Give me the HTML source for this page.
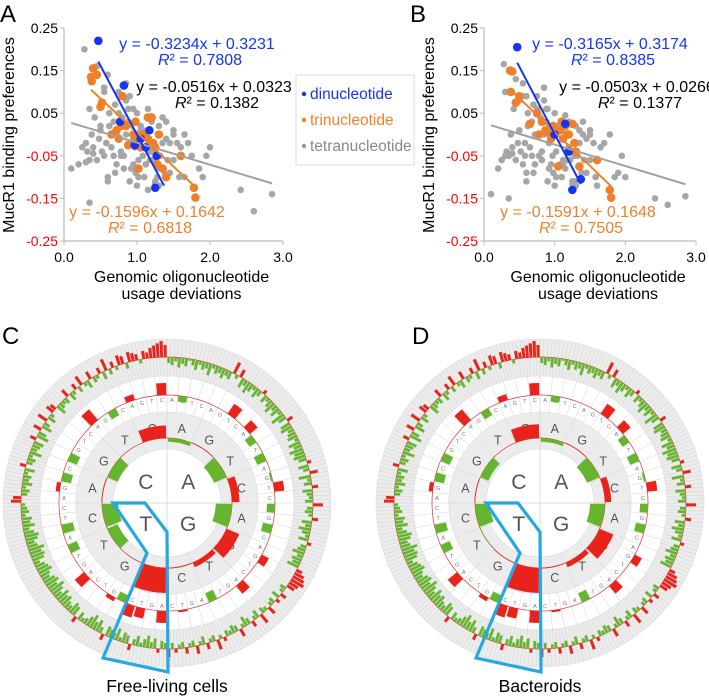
<!DOCTYPE html>
<html><head><meta charset="utf-8"><style>
html,body{margin:0;padding:0;background:#fff}
svg{display:block;font-family:"Liberation Sans",Arial,sans-serif}
</style></head><body>
<svg id="fig" width="709" height="697" viewBox="0 0 709 697" xmlns="http://www.w3.org/2000/svg">
<text x="0" y="22" font-size="24">A</text>
<text x="410" y="22" font-size="24">B</text>
<text x="2" y="344" font-size="24">C</text>
<text x="412" y="344" font-size="24">D</text>
<g id="legend">
<rect x="296" y="75" width="118" height="90" fill="#fff" stroke="#ddd"/>
<g><circle cx="304" cy="94" r="2.2" fill="#1434f0"/><text x="310" y="99" font-size="15.5" fill="#1434f0">dinucleotide</text></g>
<g><circle cx="304" cy="120" r="2.2" fill="#f07f2a"/><text x="310" y="125" font-size="15.5" fill="#f07f2a">trinucleotide</text></g>
<g><circle cx="304" cy="146" r="2.2" fill="#999"/><text x="310" y="151" font-size="15.5" fill="#888">tetranucleotide</text></g>
</g>
<text x="167" y="692" font-size="17.5" text-anchor="middle">Free-living cells</text>
<text x="540" y="692" font-size="17.5" text-anchor="middle">Bacteroids</text>
</svg>
<script>
// ---------- scatter data ----------
const yTicks = [0.25, 0.15, 0.05, -0.05, -0.15, -0.25];
const xTicks = [0, 1, 2, 3];
const xTickLabels = ["0.0", "1.0", "2.0", "3.0"];
const blueXA = [0.47, 0.82, 0.77, 1.17, 0.97, 1.27, 1.25, 1.05, 1.12];
const blueYA = [0.22, 0.115, 0.03, 0.01, -0.025, -0.05, -0.125, -0.01, -0.03];
const orangeXA = [0.4,0.37,0.38,0.45,0.52,0.5,0.8,0.65,0.78,0.75,0.88,1.0,1.15,1.2,1.1,1.15,1.3,1.25,1.28,1.6,1.78,1.8,1.02,0.95,1.22,1.35,1.05,0.85,1.4,0.98,0.72,1.08];
const orangeYA = [0.155,0.135,0.125,0.14,0.075,0.065,0.09,0.0,0.02,-0.01,-0.025,-0.01,0.04,0.04,0.0,-0.01,0.0,-0.03,-0.07,-0.05,-0.125,-0.148,-0.08,0.0,-0.02,-0.08,-0.03,0.02,-0.1,0.03,0.01,0.0];
const grayXA = [0.28,0.45,0.55,0.6,0.35,0.42,0.5,0.7,0.75,0.85,0.9,0.95,0.62,0.68,0.8,0.88,1.0,1.05,1.1,1.15,1.2,1.3,1.35,1.4,1.45,1.5,1.55,0.3,0.25,0.2,0.1,0.4,0.48,0.52,0.58,0.65,0.72,0.78,0.82,0.92,0.97,1.02,1.08,1.12,1.18,1.22,1.28,1.32,1.38,1.42,1.6,1.65,1.7,1.75,1.85,1.9,1.95,2.0,0.35,0.6,0.7,0.9,1.0,1.1,1.15,1.25,1.3,0.55,0.45,0.32,0.38,0.62,0.75,0.85,0.95,1.05,1.2,1.35,1.5,1.58,2.42,2.6,2.85,0.35,0.6,0.82,0.98,1.12,1.28,0.5,0.68,0.88,1.08,1.18,0.4,0.58,0.78,0.92,1.02,1.22,1.4,1.5,0.3,0.95,1.25,1.45,1.65,0.72,0.55,0.85];
const grayYA = [0.2,0.16,0.1,0.14,0.06,0.04,0.02,0.07,0.1,0.08,0.09,0.06,0.05,0.03,0.04,0.06,0.05,0.02,0.0,0.06,0.03,0.02,0.04,-0.01,-0.02,0.0,-0.02,-0.02,-0.03,-0.07,-0.08,-0.03,-0.01,-0.04,-0.02,-0.03,0.0,-0.04,-0.05,-0.02,-0.03,-0.06,-0.05,-0.07,-0.04,-0.06,-0.08,-0.05,-0.09,-0.06,-0.03,0.0,-0.02,-0.05,-0.08,-0.1,-0.05,-0.03,-0.06,-0.1,-0.09,-0.11,-0.12,-0.1,-0.13,-0.11,-0.12,-0.05,-0.06,-0.04,0.0,0.02,0.05,0.0,-0.01,0.01,-0.03,-0.02,-0.06,-0.1,-0.13,-0.18,-0.14,-0.16,-0.11,-0.08,-0.09,-0.07,-0.1,0.01,-0.05,0.03,0.01,-0.06,-0.045,-0.02,-0.05,-0.08,-0.1,-0.04,0.03,0.01,-0.065,-0.07,-0.115,-0.09,-0.1,-0.07,0.11,0.12];
const blueXB = [0.47, 1.25, 1.37, 1.15, 1.0, 1.2];
const blueYB = [0.205, -0.13, -0.105, 0.025, 0.0, -0.04];
const orangeXB = [0.37,0.4,0.38,0.5,0.45,0.75,0.65,0.78,0.82,0.9,0.95,1.0,1.1,1.15,1.2,1.25,1.28,1.35,1.6,1.78,1.8,1.05,0.98,1.12,1.3,0.87,1.18,1.08];
const orangeYB = [0.15,0.148,0.1,0.09,0.075,0.05,0.025,0.0,0.03,0.005,-0.01,0.0,0.03,0.02,0.0,0.025,-0.02,-0.075,-0.06,-0.13,-0.148,-0.075,0.02,-0.01,-0.04,0.01,0.0,0.01];
const grayXB = [0.28,0.35,0.45,0.55,0.6,0.42,0.3,0.5,0.7,0.75,0.85,0.9,0.62,0.68,0.8,0.88,1.0,1.05,1.1,1.15,1.2,1.3,1.35,1.4,1.45,1.5,1.55,0.3,0.25,0.2,0.1,0.4,0.48,0.52,0.58,0.65,0.72,0.78,0.82,0.92,0.97,1.02,1.08,1.12,1.18,1.22,1.28,1.32,1.38,1.42,1.6,1.65,1.7,1.78,1.85,1.9,1.95,2.0,0.35,0.6,0.7,0.9,1.0,1.1,1.15,1.25,1.3,0.55,0.45,0.32,0.38,0.62,0.75,0.85,0.95,1.05,1.2,1.35,1.5,1.58,2.42,2.6,2.85,0.35,0.6,0.82,0.98,1.12,1.28,0.5,0.68,0.88,1.08,1.18,0.4,0.58,0.78,0.92,1.02,1.22,1.4,1.5,0.95,1.25,1.45,0.72,0.55,0.85];
const grayYB = [0.165,0.1,0.13,0.12,0.09,0.06,0.1,0.08,0.07,0.09,0.08,0.06,0.05,0.03,0.04,0.06,0.05,0.02,0.03,0.045,0.03,0.02,0.01,0.0,-0.01,0.0,-0.02,-0.05,-0.06,-0.08,-0.14,-0.03,-0.02,-0.04,-0.05,-0.03,0.0,-0.05,-0.04,-0.02,-0.05,-0.04,-0.07,-0.06,-0.04,-0.06,-0.11,-0.05,-0.09,-0.06,-0.12,-0.03,-0.02,0.0,-0.1,-0.09,-0.05,-0.1,-0.15,-0.11,-0.09,-0.11,-0.12,-0.1,-0.08,-0.11,-0.12,-0.07,-0.06,-0.04,0.0,0.02,0.06,0.0,-0.01,0.01,-0.03,-0.02,-0.06,-0.1,-0.15,-0.165,-0.145,-0.05,-0.09,-0.06,-0.09,-0.07,-0.05,0.01,-0.05,0.03,0.01,-0.06,-0.045,-0.02,-0.05,-0.08,-0.1,-0.04,0.03,0.01,-0.07,-0.115,-0.09,-0.07,0.09,0.11];
const fitA = {blue:[-0.3234,0.3231,0.47,1.37], orange:[-0.1596,0.1642,0.37,1.8], gray:[-0.0516,0.0323,0.1,2.85]};
const fitB = {blue:[-0.3165,0.3174,0.47,1.37], orange:[-0.1591,0.1648,0.37,1.8], gray:[-0.0503,0.0266,0.1,2.85]};

// ---------- circle data (positive = red outward, negative = green inward) ----------
const diC = [-0.3,0.05,-1.1,0.6, -1.3,1.1,0.4,0.05, 2.0,0.0,-0.9,-1.3, 0.05,-0.9,0.0,1.0];
const diD = [-0.3,0.05,-1.1,0.5, -1.2,1.2,0.4,0.05, 2.0,0.05,-0.05,-1.2, 0.05,-0.7,0.0,1.1];
const tri = [0,-3,0,0,0,0,6,0,5,-4,0,-5,0,-1,5,0,
 -4,0,-5,0,0,4,0,0,5,0,0,-5,0,0,1,0,
 6,0,5,6,-4,2,0,0,6,0,0,-5,0,-6,0,0,
 0,2,-5,0,-5,0,0,0,7,0,-4,0,3,0,0,6];
const tetra = [-3,-4,-2,-5,-3,-4,-1,-3,-5,-2,-4,-3,-6,-2,-4,-3,
 -5,-3,-4,6,-2,4,-5,-3,-6,-4,-2,-5,-3,2,-4,-2,
 -4,-6,-3,-5,-2,-7,-4,3,-5,-6,-3,-4,-5,-2,-6,-4,
 -7,-5,-6,-4,2,-5,-3,4,-6,-2,-4,3,-5,-3,-2,-4,
 5,-3,-4,-2,3,-5,-3,-6,-4,-2,-5,2,-3,-4,-6,-3,
 -5,-4,-6,3,5,6,7,5,4,-3,-2,3,-4,2,-3,-2,
 4,-2,-3,5,-4,-2,3,-3,-5,-2,4,-3,-4,-2,-3,2,
 -2,5,-3,-2,3,-4,-2,4,-3,-2,3,-3,-2,2,-3,4,
 -3,-4,2,-5,-3,-6,-4,-2,-5,-3,3,-4,-5,-2,-6,-3,
 -4,-5,3,-3,-6,-4,-7,-5,-3,-2,-4,3,-5,-6,-3,-4,
 -6,-5,-7,-4,-6,-8,-5,-7,-6,-4,-5,-7,-6,-5,-3,-6,
 -7,-6,-8,-5,-4,-6,-7,-5,-3,-6,-4,-5,-2,-4,-3,-2,
 5,4,-3,-4,-2,-5,-3,-4,-2,-5,3,-3,-4,-2,-6,-3,
 -4,-5,3,-6,-4,4,-5,-3,5,-4,-2,4,3,-5,-3,-2,
 -3,4,-4,-2,3,-3,5,-2,-4,4,-3,-2,3,-4,6,-3,
 3,-2,5,4,-3,5,4,3,-2,4,3,5,6,7,8,6];
const bases = ["A","G","T","C"];

const NS="http://www.w3.org/2000/svg";
const svg=document.getElementById('fig');
function mk(tag,attrs,parent){const e=document.createElementNS(NS,tag);for(const k in attrs)e.setAttribute(k,attrs[k]);(parent||svg).appendChild(e);return e;}

function scatter(px0,px1,gx,gy,bx,by,ox,oy,fit,eq,name){
  const g=mk('g',{});
  
  
  const X=v=>px0+v*(px1-px0)/3, Y=v=>28+(0.25-v)*426;
  mk('line',{x1:px0,y1:28,x2:px0,y2:241,stroke:'#bbb','stroke-width':1.2},g);
  mk('line',{x1:px0,y1:241,x2:px1,y2:241,stroke:'#bbb','stroke-width':1.2},g);
  yTicks.forEach(t=>{
    mk('line',{x1:px0-4,y1:Y(t),x2:px0,y2:Y(t),stroke:'#bbb'},g);
    const tx=mk('text',{x:px0-6,y:Y(t)+5,'font-size':14,'text-anchor':'end',fill:t<0?'#f00':'#000'},g);
    
    
    tx.textContent=t.toFixed(2);
  });
  xTicks.forEach((t,i)=>{
    mk('line',{x1:X(t),y1:241,x2:X(t),y2:245,stroke:'#bbb'},g);
    const tx=mk('text',{x:X(t),y:262,'font-size':14,'text-anchor':'middle'},g);
    
    
    tx.textContent=xTickLabels[i];
  });
  const yl=mk('text',{x:0,y:0,'font-size':16,'text-anchor':'middle',transform:`translate(${px0-50},135) rotate(-90)`},g);
  
  
  yl.textContent='MucR1 binding preferences';
  const cx=(px0+px1)/2+8;
  const xl1=mk('text',{x:cx,y:282,'font-size':16,'text-anchor':'middle'},g);
  
  
  xl1.textContent='Genomic oligonucleotide';
  const xl2=mk('text',{x:cx,y:299,'font-size':16,'text-anchor':'middle'},g);
  
  
  xl2.textContent='usage deviations';
  gx.forEach((v,i)=>{const c=mk('circle',{cx:X(v),cy:Y(gy[i]),r:3.3,fill:'#a6a6a6'},g);
    
    });
  ox.forEach((v,i)=>{const c=mk('circle',{cx:X(v),cy:Y(oy[i]),r:4.3,fill:'#f07f2a'},g);
    
    });
  bx.forEach((v,i)=>{const c=mk('circle',{cx:X(v),cy:Y(by[i]),r:4.3,fill:'#1434f0'},g);
    
    });
  const cols={gray:'#a0a0a0',orange:'#f07f2a',blue:'#1434f0'};
  ['gray','orange','blue'].forEach(k=>{const [m,b,a,z]=fit[k];
    const l=mk('line',{x1:X(a),y1:Y(m*a+b),x2:X(z),y2:Y(m*z+b),stroke:cols[k],'stroke-width':2},g);
    
    });
  eq.forEach(e=>{
    const t1=mk('text',{x:e[0],y:e[1],'font-size':16,'text-anchor':'middle',fill:e[4]},g);
    
    
    t1.textContent=e[2];
    const t2=mk('text',{x:e[0]+3,y:e[1]+16,'font-size':16,'text-anchor':'middle',fill:e[4]},g);
    
    
    t2.innerHTML='<tspan font-style="italic">R</tspan>² = '+e[3];
  });
}
scatter(64,283,grayXA,grayYA,blueXA,blueYA,orangeXA,orangeYA,fitA,[
 [197,49,'y = -0.3234x + 0.3231','0.7808','#1434f0'],
 [214,92,'y = -0.0516x + 0.0323','0.1382','#000'],
 [147,217,'y = -0.1596x + 0.1642','0.6818','#f07f2a']],'scatter-panel-a');
scatter(484,696,grayXB,grayYB,blueXB,blueYB,orangeXB,orangeYB,fitB,[
 [610,49,'y = -0.3165x + 0.3174','0.8385','#1434f0'],
 [637,92,'y = -0.0503x + 0.0266','0.1377','#000'],
 [578,217,'y = -0.1591x + 0.1648','0.7505','#f07f2a']],'scatter-panel-b');

// ---------- circular plots ----------
function pol(cx,cy,r,a){const t=(a-90)*Math.PI/180;return [cx+r*Math.cos(t),cy+r*Math.sin(t)];}
function sector(cx,cy,r0,r1,a0,a1){
  const [x0,y0]=pol(cx,cy,r1,a0),[x1,y1]=pol(cx,cy,r1,a1),[x2,y2]=pol(cx,cy,r0,a1),[x3,y3]=pol(cx,cy,r0,a0);
  const lg=(a1-a0)>180?1:0;
  return `M${x0},${y0}A${r1},${r1} 0 ${lg} 1 ${x1},${y1}L${x2},${y2}A${r0},${r0} 0 ${lg} 0 ${x3},${y3}Z`;
}
function ring(g,cx,cy,r0,r1,n,fill,name){
  const c=mk('path',{d:sector(cx,cy,r0,r1,0,359.99),fill:fill,stroke:'#ddd','stroke-width':0.6},g);
  
  
  let d='';
  for(let i=0;i<n;i++){const [a,b]=pol(cx,cy,r0,i*360/n),[c2,e]=pol(cx,cy,r1,i*360/n);d+=`M${a},${b}L${c2},${e}`;}
  mk('path',{d:d,stroke:'#d4d4d4','stroke-width':0.5,fill:'none'},g);
}
function bars(g,cx,cy,base,vals,unit,gap,name){
  const n=vals.length,w=360/n;
  mk('circle',{cx:cx,cy:cy,r:base,fill:'none',stroke:'#e03030','stroke-width':0.7},g);
  vals.forEach((v,i)=>{
    if(Math.abs(v)<0.01)return;
    const r0=v>0?base:base+v*unit, r1=v>0?base+v*unit:base;
    const p=mk('path',{d:sector(cx,cy,r0,r1,i*w+gap,(i+1)*w-gap),fill:v>0?'#e8231c':'#66b52e'},g);
    
    
  });
}
function circlePlot(cx,cy,di,name){
  const g=mk('g',{});
  
  
  ring(g,cx,cy,127,164,256,'#ececec','tetranucleotide-ring');
  ring(g,cx,cy,91,127,64,'#ffffff','trinucleotide-ring');
  ring(g,cx,cy,54,91,16,'#ececec','dinucleotide-ring');
  mk('circle',{cx:cx,cy:cy,r:54,fill:'#fff',stroke:'#ddd','stroke-width':0.6},g);
  mk('line',{x1:cx-54,y1:cy,x2:cx+54,y2:cy,stroke:'#ddd'},g);
  mk('line',{x1:cx,y1:cy-54,x2:cx,y2:cy+54,stroke:'#ddd'},g);
  bases.forEach((b,i)=>{const [x,y]=pol(cx,cy,30,i*90+45);
    const t=mk('text',{x:x,y:y+7,'font-size':21,'text-anchor':'middle',fill:'#555'},g);
    
    
    t.textContent=b;});
  for(let i=0;i<16;i++){const [x,y]=pol(cx,cy,76,i*22.5+11.25);
    const t=mk('text',{x:x,y:y+4.5,'font-size':12.5,'text-anchor':'middle',fill:'#555'},g);
    
    
    t.textContent=bases[i%4];}
  for(let i=0;i<64;i++){const [x,y]=pol(cx,cy,103,i*5.625+2.8);
    const t=mk('text',{x:x,y:y+2,'font-size':5.5,'text-anchor':'middle',fill:'#777'},g);
    
    
    t.textContent=bases[i%4];}
  bars(g,cx,cy,65,di,12.5,0.8,'dinucleotide-bar');
  bars(g,cx,cy,108,tri,2,0.4,'trinucleotide-bar');
  bars(g,cx,cy,146,tetra,2,0.15,'tetranucleotide-bar');
  const hl=mk('path',{d:`M${cx-54},${cy}L${cx-22},${cy}L${cx},${cy+29}L${cx+1},${cy+169}L${cx-64},${cy+155}L${cx-20},${cy+50}Z`,fill:'none',stroke:'#25a7e0','stroke-width':3.2,'stroke-linejoin':'miter'},g);
  
  
}
circlePlot(167,503,diC,'circle-plot-free-living');
circlePlot(540,503,diD,'circle-plot-bacteroids');
</script>
</body></html>
